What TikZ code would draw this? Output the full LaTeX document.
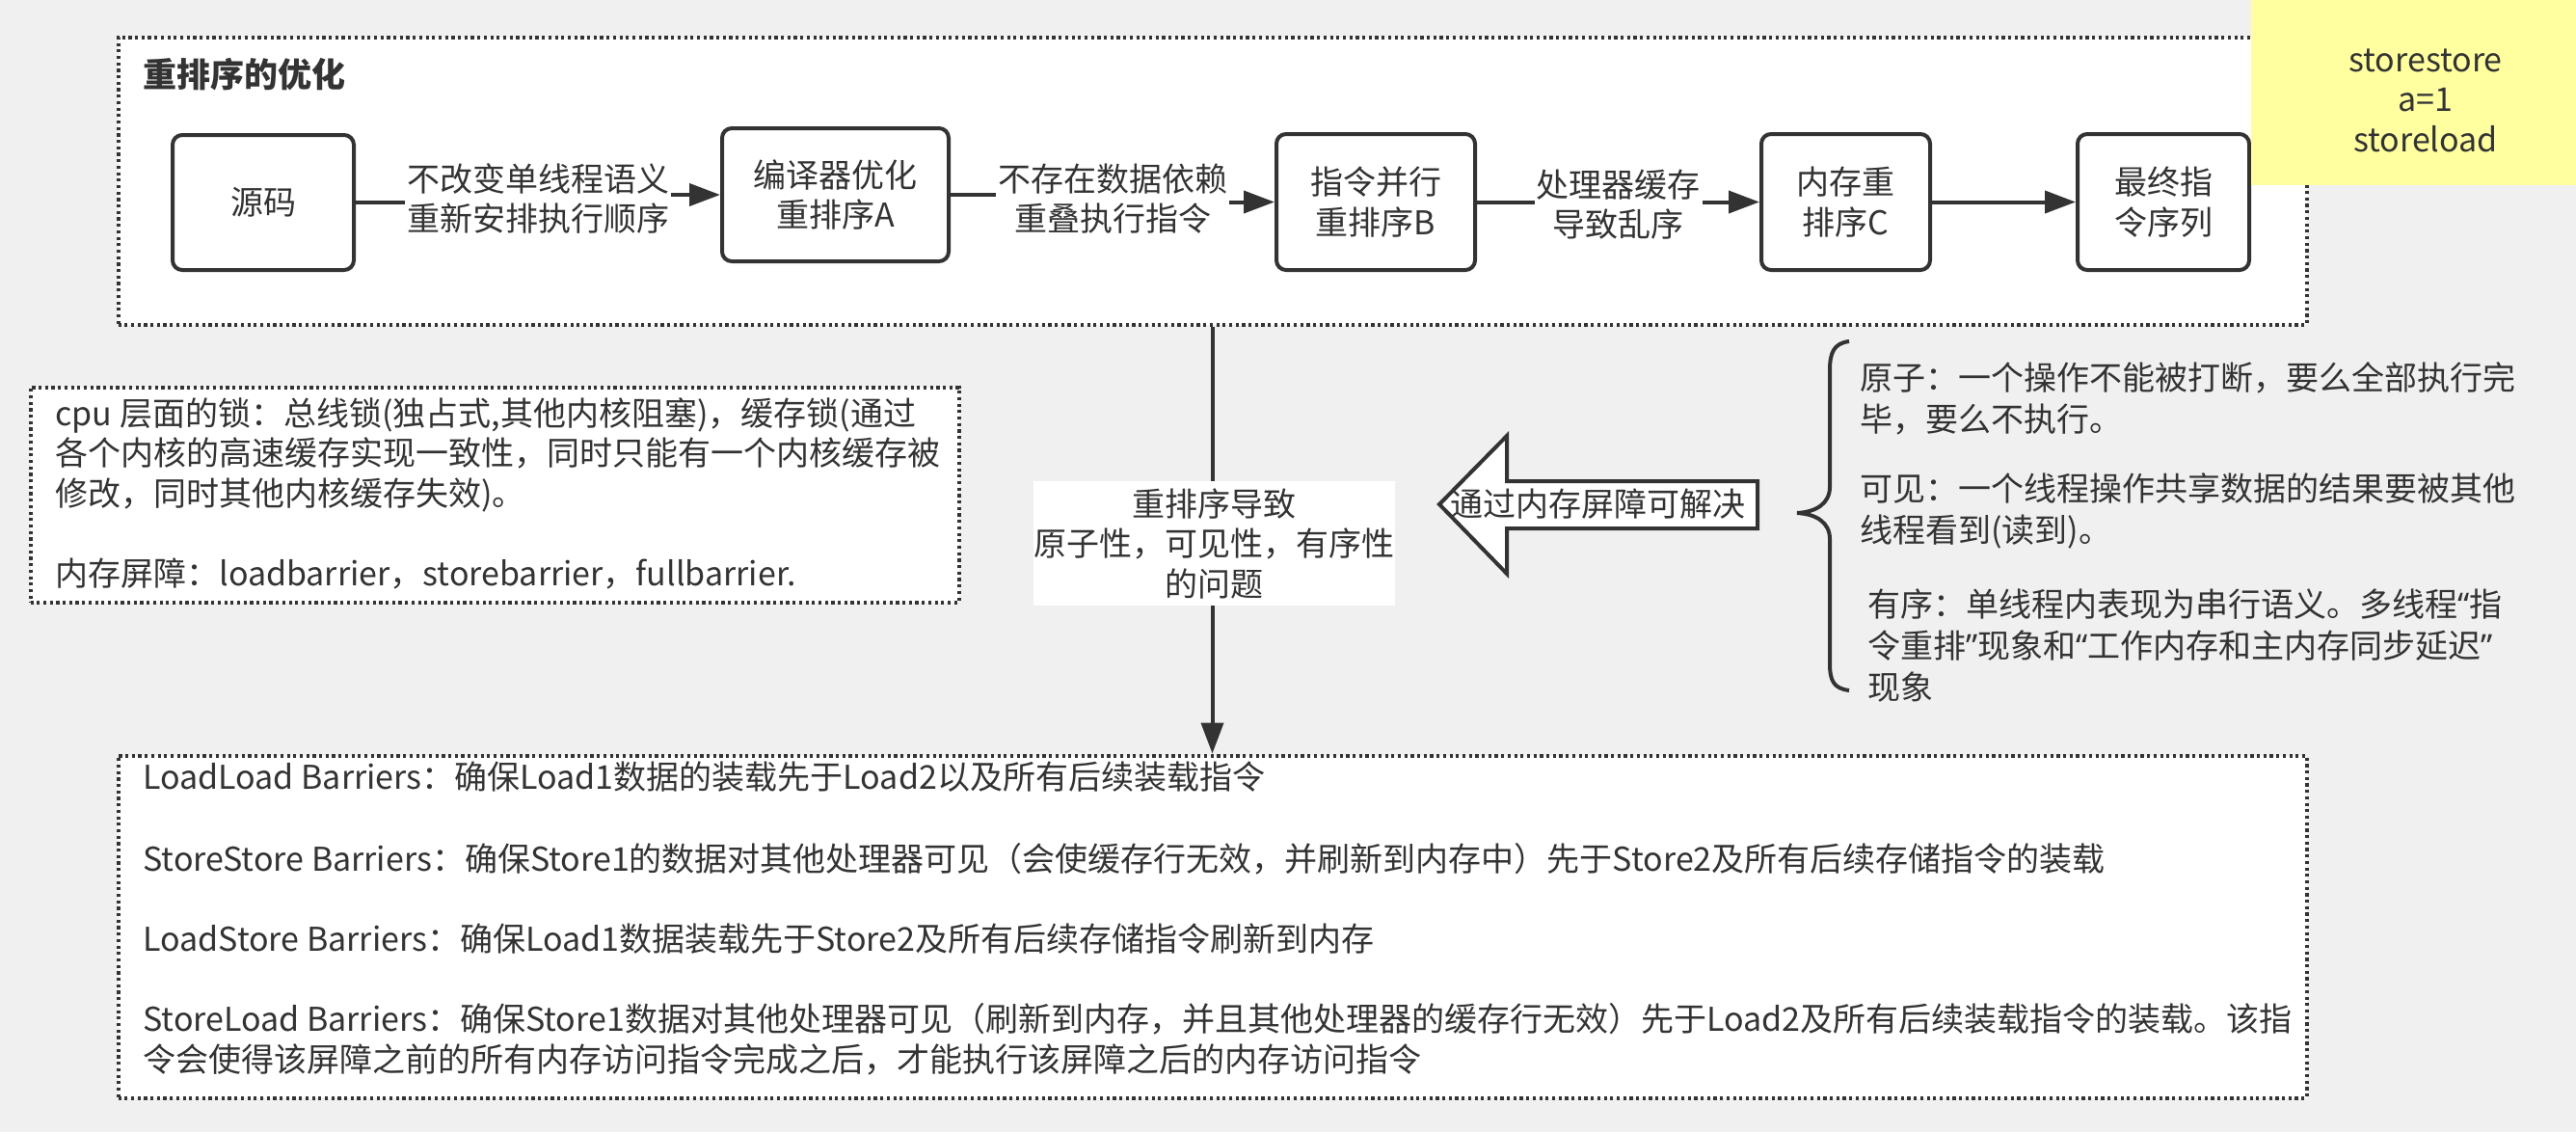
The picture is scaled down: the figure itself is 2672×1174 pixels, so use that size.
\documentclass[tikz,border=0pt]{standalone}
\usepackage{fontspec}
\setmainfont{Noto Sans CJK SC}
\newfontfamily\quotefont{Noto Sans}
\newcommand{\myopenq}{{\quotefont “}}
\newcommand{\mycloseq}{{\quotefont ”}}
\usetikzlibrary{arrows.meta}
\definecolor{bg}{HTML}{F0F0F0}
\definecolor{ink}{HTML}{333333}
\definecolor{notefill}{HTML}{FFFFA0}
\begin{document}
\begin{tikzpicture}[x=0.5pt,y=-0.5pt,
  every node/.style={font=\fontsize{17pt}{20.75pt}\selectfont, text=ink},
  box/.style={draw=ink, line width=2pt, rounded corners=5pt, fill=white, align=center, inner sep=0pt},
  dotbox/.style={draw=ink, line width=2pt, dash pattern=on 1.6pt off 1.75pt, fill=white, inner sep=0pt},
  flow/.style={draw=ink, line width=2pt, -{Triangle[length=16pt,width=11.5pt]}},
  elabel/.style={fill=white, align=center, inner sep=1pt},
  para/.style={anchor=north west, align=left, inner sep=0pt},
  wide/.style={font=\fontsize{17pt}{21.5pt}\selectfont},
]
\fill[bg] (0,0) rectangle (2672,1174);
\useasboundingbox (0,0) rectangle (2672,1174);

% top container
\node[dotbox, minimum width=1135pt, minimum height=149pt] (top) at (1257.5,187.5) {};
\node[anchor=west, font=\fontsize{17.5pt}{21pt}\selectfont\bfseries] (title) at (141,77) {重排序的优化};

% boxes
\node[box, minimum width=94pt, minimum height=70pt] (src) at (273,210) {源码};
\node[box, minimum width=117.5pt, minimum height=69pt] (cmp) at (866.5,202) {编译器优化\\重排序A};
\node[box, minimum width=103pt, minimum height=70.5pt] (ilp) at (1427,209.5) {指令并行\\重排序B};
\node[box, minimum width=87.5pt, minimum height=70.5pt] (mem) at (1914.5,209.5) {内存重\\排序C};
\node[box, minimum width=89pt, minimum height=70.5pt] (fin) at (2244,209.5) {最终指\\令序列};

% edges
\coordinate (m1) at (558,206);
\coordinate (m2) at (1154,206);
\draw[flow] (src.east) -| (m1) |- (cmp.west);
\draw[flow] (cmp.east) -| (m2) |- (ilp.west);
\draw[flow] (ilp.east) -- (mem.west);
\draw[flow] (mem.east) -- (fin.west);
\node[elabel] (l1) at (m1) {不改变单线程语义\\重新安排执行顺序};
\node[elabel] (l2) at (m2) {不存在数据依赖\\重叠执行指令};
\node[elabel] (l3) at (1678.5,212) {处理器缓存\\导致乱序};

% yellow note
\node[fill=notefill, minimum width=168.5pt, minimum height=96pt, inner sep=0pt] (memo) at (2503.5,96) {};
\node[align=center, inner sep=0pt] (memotext) at (2516,104) {storestore\\a=1\\storeload};

% bottom box
\node[dotbox, minimum width=1135pt, minimum height=177.5pt] (bot) at (1257.5,961) {};

% vertical connector
\draw[flow] (top.south) -- (bot.north);
\node[fill=white, minimum width=187.5pt, minimum height=64.5pt, align=center, inner sep=0pt] (prob) at (1259.5,563.5) {重排序导致\\原子性，可见性，有序性\\的问题};

% left box
\node[dotbox, minimum width=481.5pt, minimum height=111.5pt] (cpu) at (513,513) {};
\node[para] (cputext) at (57,412) {\strut cpu 层面的锁：总线锁(独占式,其他内核阻塞)，缓存锁(通过\\各个内核的高速缓存实现一致性，同时只能有一个内核缓存被\\修改，同时其他内核缓存失效)。\\[20.75pt]内存屏障：loadbarrier，storebarrier，fullbarrier.};

% big left arrow
\draw[draw=ink, fill=white, line width=2pt] (1493,523) -- (1563,452) -- (1563,499) -- (1823,499) -- (1823,548) -- (1563,548) -- (1563,595) -- cycle;
\node[inner sep=0pt] (fix) at (1657,523) {通过内存屏障可解决};

% brace
\draw[ink, line width=2pt] (1918,354) .. controls (1902,356) and (1898,366) .. (1898,384) -- (1898,505) .. controls (1898,522) and (1884,531) .. (1864,532) .. controls (1884,533) and (1898,542) .. (1898,559) -- (1898,688) .. controls (1898,706) and (1902,714) .. (1918,716);

% right texts
\node[para, wide] (atom) at (1929,374) {\strut 原子：一个操作不能被打断，要么全部执行完\\毕，要么不执行。};
\node[para, wide] (vis) at (1929,489) {\strut 可见：一个线程操作共享数据的结果要被其他\\线程看到(读到)。};
\node[para, wide] (ord) at (1937,609) {\strut 有序：单线程内表现为串行语义。多线程\myopenq 指\\令重排\mycloseq 现象和\myopenq 工作内存和主内存同步延迟\mycloseq\\现象};

% barrier text
\node[para] (bartext) at (148,789) {\strut LoadLoad Barriers：确保Load1数据的装载先于Load2以及所有后续装载指令\\[20.75pt]StoreStore Barriers：确保Store1的数据对其他处理器可见（会使缓存行无效，并刷新到内存中）先于Store2及所有后续存储指令的装载\\[20.75pt]LoadStore Barriers：确保Load1数据装载先于Store2及所有后续存储指令刷新到内存\\[20.75pt]StoreLoad Barriers：确保Store1数据对其他处理器可见（刷新到内存，并且其他处理器的缓存行无效）先于Load2及所有后续装载指令的装载。该指\\令会使得该屏障之前的所有内存访问指令完成之后，才能执行该屏障之后的内存访问指令};
\end{tikzpicture}
\end{document}
